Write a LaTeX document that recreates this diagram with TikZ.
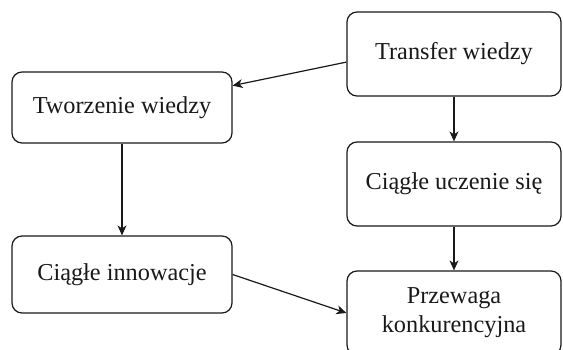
\documentclass[tikz,border=0pt]{standalone}
\usepackage{fontspec}
\setmainfont{Liberation Serif}
\usetikzlibrary{arrows.meta,calc}
\begin{document}
\begin{tikzpicture}[x=1pt,y=-1pt,
  box/.style={draw=black!90,line width=1.2pt,rounded corners=10pt,inner sep=0pt,
    align=center,font=\fontsize{24.3}{29}\selectfont,text=black!90},
  conn/.style={draw=black!90,line width=1.2pt,-{Stealth[length=10pt,width=9pt,inset=3pt]}}]
\useasboundingbox (0,0) rectangle (563,350);
\node[box,minimum width=214pt,minimum height=84pt] (tw) at (454,54) {Transfer wiedzy};
\node[box,minimum width=214pt,minimum height=84pt] (cu) at (454,184) {Ciągłe uczenie się};
\node[box,minimum width=214pt,minimum height=84pt] (pk) at (454,313) {Przewaga\\konkurencyjna};
\node[box,minimum width=220pt,minimum height=71pt] (tz) at (122,107.5) {Tworzenie wiedzy};
\node[box,minimum width=220pt,minimum height=77pt] (ci) at (122,274.5) {Ciągłe innowacje};
\draw[conn] ($(tw.north west)!0.595!(tw.south west)$) -- ($(tz.north east)!0.197!(tz.south east)$);
\draw[conn] (tw.south) -- (cu.north);
\draw[conn] (cu.south) -- (pk.north);
\draw[conn] (tz.south) -- (ci.north);
\draw[conn] (ci.east) -- (pk.west);
\end{tikzpicture}
\end{document}
